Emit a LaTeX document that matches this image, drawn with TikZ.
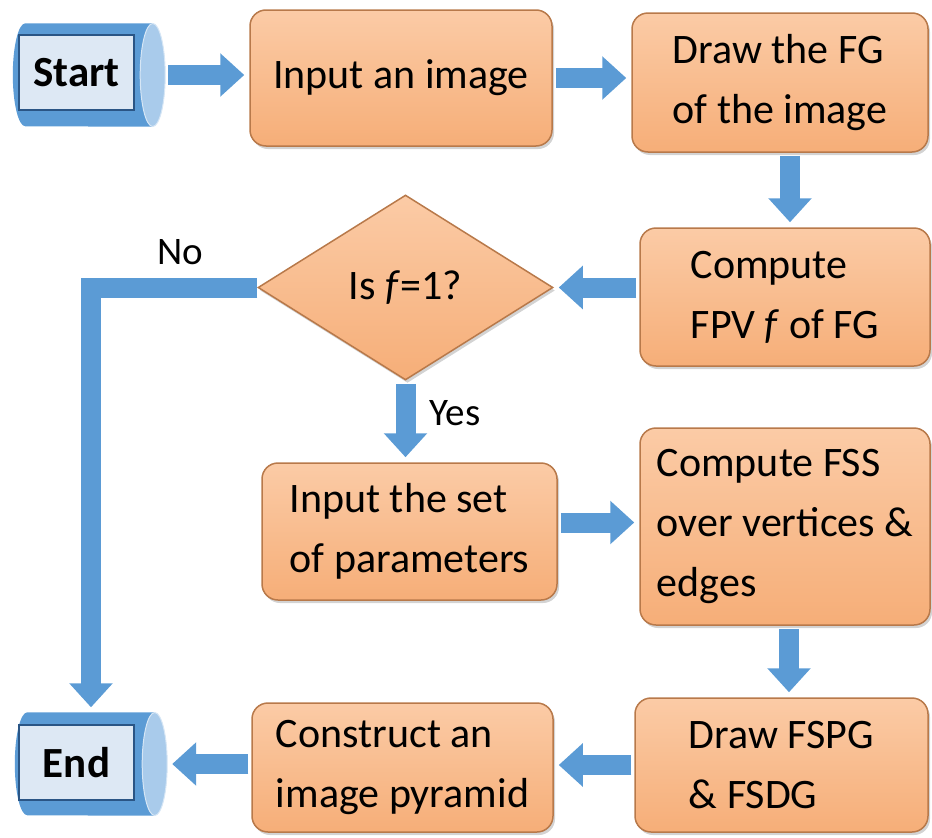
\documentclass[tikz,border=0pt]{standalone}
\usepackage{fontspec}
\setmainfont{Carlito}
\usetikzlibrary{arrows.meta,shapes.geometric,shadows}
\definecolor{arrowblue}{HTML}{5B9BD5}
\definecolor{boxtop}{HTML}{FBCBA6}
\definecolor{boxbot}{HTML}{F6AE78}
\definecolor{boxedge}{HTML}{B8794A}
\definecolor{cylbody}{HTML}{5B9BD5}
\definecolor{cylend}{HTML}{A9CBEB}
\definecolor{cylrim}{HTML}{D6E6F5}
\definecolor{innerfill}{HTML}{DDE8F4}
\definecolor{inneredge}{HTML}{2A5585}
\begin{document}
\begin{tikzpicture}[x=1pt,y=-1pt,
  box/.style={rounded corners=16pt, draw=boxedge, line width=1.5pt,
    top color=boxtop, bottom color=boxbot, align=left, inner sep=0pt,
    drop shadow={shadow xshift=2pt, shadow yshift=-3pt, opacity=0.35},
    font=\fontsize{42}{60}\selectfont},
  decision/.style={diamond, draw=boxedge, line width=1.5pt,
    top color=boxtop, bottom color=boxbot, inner sep=0pt,
    drop shadow={shadow xshift=2pt, shadow yshift=-3pt, opacity=0.35},
    font=\fontsize{42}{60}\selectfont},
  terminal/.style={rectangle, inner sep=0pt, minimum width=152pt, minimum height=103pt},
  cylbodystyle/.style={fill=cylbody},
  cylendstyle/.style={fill=cylend, draw=cylrim, line width=1pt},
  termtext/.style={draw=inneredge, line width=2.5pt, fill=innerfill,
    minimum width=115pt, minimum height=75pt, inner sep=0pt,
    font=\fontsize{43}{50}\selectfont\bfseries},
  lbl/.style={font=\fontsize{39}{45}\selectfont, inner sep=0pt},
  flow/.style={draw=arrowblue, line width=20pt,
    -{Triangle[width=42pt,length=24pt]}, shorten >=5pt, shorten <=3pt}
]
\useasboundingbox (0,0) rectangle (932,838);

% terminals (horizontal cylinders)
\node[terminal] (startc) at (89,75) {};
\fill[cylbodystyle] ([xshift=-12.5pt]startc.north east) -- ([xshift=12.5pt]startc.north west)
  arc[start angle=90, end angle=270, x radius=12.5pt, y radius=51.5pt]
  -- ([xshift=-12.5pt]startc.south east) -- cycle;
\path[cylendstyle] ([xshift=-12.5pt]startc.east) ellipse [x radius=12.5pt, y radius=51.5pt];
\node[termtext] (starttxt) at (76.5,72.5) {Start};

\node[terminal] (endc) at (91,764) {};
\fill[cylbodystyle] ([xshift=-12.5pt]endc.north east) -- ([xshift=12.5pt]endc.north west)
  arc[start angle=90, end angle=270, x radius=12.5pt, y radius=51.5pt]
  -- ([xshift=-12.5pt]endc.south east) -- cycle;
\path[cylendstyle] ([xshift=-12.5pt]endc.east) ellipse [x radius=12.5pt, y radius=51.5pt];
\node[termtext] (endtxt) at (76.5,762.5) {End};

% process boxes
\node[box, minimum width=302pt, minimum height=136pt] (input) at (401,78) {Input an image};
\node[box, minimum width=296pt, minimum height=139pt] (draw) at (780,82.5) {Draw the FG\\of the image};
\node[box, minimum width=290pt, minimum height=138pt] (fpv) at (785,297) {Compute\\FPV \textit{f} of FG};
\node[decision, minimum width=295pt, minimum height=185pt] (dia) at (405.5,287.5) {Is \textit{f}=1?};
\node[box, minimum width=295pt, minimum height=137pt] (set) at (409.5,531.5) {Input the set\\of parameters};
\node[box, minimum width=290pt, minimum height=197pt] (fss) at (785,526.5) {Compute FSS\\over vertices \&\\edges};
\node[box, minimum width=293pt, minimum height=134pt] (fspg) at (781.5,765) {Draw FSPG\\\& FSDG};
\node[box, minimum width=301pt, minimum height=129pt] (construct) at (402.5,767.5) {Construct an\\image pyramid};

% labels
\node[lbl] (nolab) at (180,252) {No};
\node[lbl] (yeslab) at (455,413) {Yes};

% connectors
\draw[flow] (startc.east) -- (startc.east -| input.west);
\draw[flow] (input.east) -- (input.east -| draw.west);
\draw[flow] ([xshift=10pt]draw.south) -- ([xshift=10pt]draw.south |- fpv.north);
\draw[flow] (fpv.west |- dia.east) -- (dia.east);
\draw[flow, shorten <=0pt] (dia.west) -- (dia.west -| endc.north) -- (endc.north);
\draw[flow] (dia.south) -- (dia.south |- set.north);
\draw[flow] ([yshift=9pt]set.east) -- ([yshift=9pt]set.east -| fss.west);
\draw[flow] ([xshift=4pt]fss.south) -- ([xshift=4pt]fss.south |- fspg.north);
\draw[flow] (fspg.west) -- (fspg.west -| construct.east);
\draw[flow] (construct.west |- endc.east) -- (endc.east);
\end{tikzpicture}
\end{document}
